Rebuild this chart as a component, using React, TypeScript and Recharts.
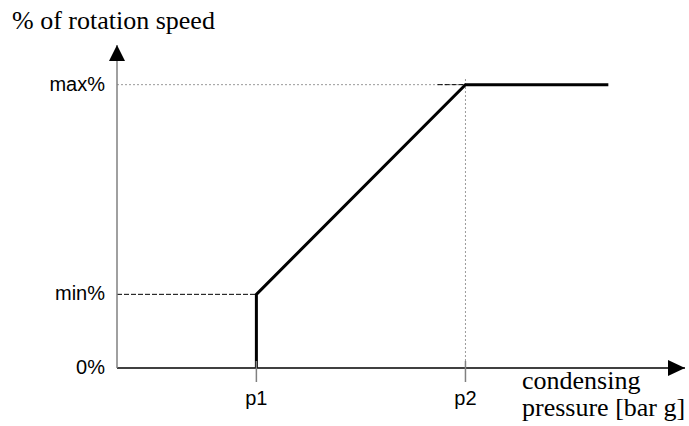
import { LineChart, Line, XAxis, YAxis, ReferenceLine, ReferenceDot } from 'recharts'

// fan speed curve (x in arbitrary pressure units, y in %)
const pressurePoints = [4, 4, 10, 14.1]
const speedPoints = [0, 26, 100, 100]

const xTickValues = [4, 10]
const xTickLabels = ['p1', 'p2']
const yTickValues = [0, 26, 100]
const yTickLabels = ['0%', 'min%', 'max%']

const p1 = 4
const p2 = 10
const minPct = 26
const maxPct = 100
const xMax = 16.3
const yMax = 114

const data = pressurePoints.map((x, i) => ({ x, y: speedPoints[i] }))

const SANS = "'Liberation Sans', Arial, sans-serif"
const SERIF = "'Liberation Serif', 'Times New Roman', Times, serif"

const PressureTick = ({ x, y, payload }: any) => {
  const i = xTickValues.indexOf(payload.value)
  return (
    <g>
      <line x1={x} x2={x} y1={y - 7} y2={y + 14} stroke="#808080" strokeWidth={1.5} />
      <text x={x} y={y + 37} textAnchor="middle" style={{ fontFamily: SANS, fontSize: 20 }} fill="#000">
        {xTickLabels[i]}
      </text>
    </g>
  )
}

const SpeedTick = ({ x, y, payload }: any) => {
  const i = yTickValues.indexOf(payload.value)
  return (
    <text x={x} y={y + 6} textAnchor="end" style={{ fontFamily: SANS, fontSize: 20 }} fill="#000">
      {yTickLabels[i]}
    </text>
  )
}

const UpArrow = ({ cx, cy }: any) => (
  <path d={`M${cx},${cy} L${cx + 8},${cy + 16} L${cx - 8},${cy + 16} Z`} fill="#000" />
)

const RightArrow = ({ cx, cy }: any) => (
  <path d={`M${cx},${cy} L${cx - 17},${cy - 8} L${cx - 17},${cy + 8} Z`} fill="#000" />
)

const serifText = { fontFamily: SERIF, fontSize: 26 }

export default function App() {
  return (
    <div style={{ position: 'absolute', left: 0, top: 0, width: 689, height: 426, background: '#fff' }}>
      <LineChart width={689} height={426} data={data} margin={{ top: 45, right: 4, bottom: 0, left: 0 }}>
        <XAxis
          dataKey="x"
          type="number"
          domain={[0, xMax]}
          ticks={xTickValues}
          tick={<PressureTick />}
          tickLine={false}
          tickSize={0}
          tickMargin={0}
          height={58}
          axisLine={{ stroke: '#000', strokeWidth: 1.5 }}
          allowDataOverflow
        />
        <YAxis
          type="number"
          domain={[0, yMax]}
          ticks={yTickValues}
          tick={<SpeedTick />}
          tickLine={false}
          tickSize={0}
          tickMargin={12}
          width={117}
          axisLine={{ stroke: '#808080', strokeWidth: 1.5 }}
          allowDataOverflow
        />
        <ReferenceLine
          segment={[{ x: 0, y: maxPct }, { x: p2, y: maxPct }]}
          stroke="#9a9a9a"
          strokeDasharray="2 2"
          ifOverflow="visible"
        />
        <ReferenceLine
          segment={[{ x: 9.2, y: maxPct }, { x: p2, y: maxPct }]}
          stroke="#000"
          strokeDasharray="5 2"
          ifOverflow="visible"
        />
        <ReferenceLine
          segment={[{ x: p2, y: maxPct + 2 }, { x: p2, y: 0 }]}
          stroke="#9a9a9a"
          strokeDasharray="2 2"
          ifOverflow="visible"
        />
        <ReferenceLine
          segment={[{ x: 0, y: minPct }, { x: p1, y: minPct }]}
          stroke="#000"
          strokeDasharray="5 2"
          ifOverflow="visible"
        />
        <Line
          type="linear"
          dataKey="y"
          stroke="#000"
          strokeWidth={3}
          dot={false}
          isAnimationActive={false}
        />
        <ReferenceDot x={0} y={yMax} r={0} shape={<UpArrow />} ifOverflow="visible" />
        <ReferenceDot x={xMax} y={0} r={0} shape={<RightArrow />} ifOverflow="visible" />
      </LineChart>
      <svg width={689} height={426} style={{ position: 'absolute', left: 0, top: 0, pointerEvents: 'none' }}>
        <text x={12} y={29} style={serifText} fill="#000">% of rotation speed</text>
        <text x={522} y={389} style={serifText} fill="#000">condensing</text>
        <text x={522} y={416} style={serifText} fill="#000">pressure [bar g]</text>
      </svg>
    </div>
  )
}
